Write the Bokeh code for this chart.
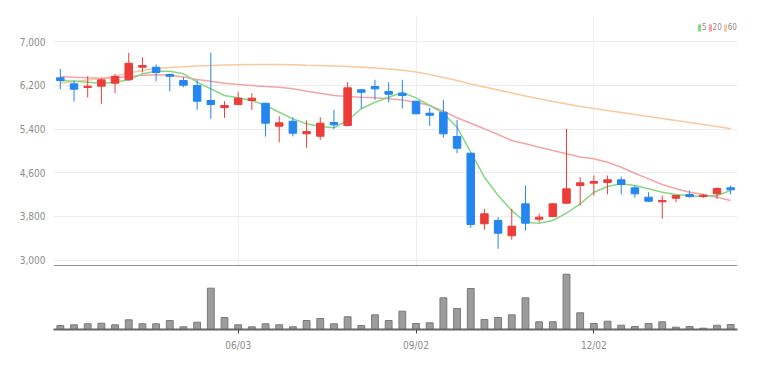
from bokeh.plotting import figure
from bokeh.models import Range1d, FixedTicker, Span, Legend, LegendItem, ColumnDataSource, NumeralTickFormatter
from bokeh.layouts import column
from bokeh.embed import file_html
from bokeh.resources import INLINE

# weekly candles (index 0 = first week shown)
opens = [6340, 6230, 6162, 6186, 6241, 6303, 6534, 6534, 6400, 6290,
         6199, 5924, 5795, 5850, 5924, 5874, 5453, 5544, 5313, 5269,
         5520, 5465, 6120, 6180, 6089, 6058, 5911, 5691, 5709, 5264,
         4958, 3664, 3724, 3444, 4030, 3748, 3797, 4041, 4366, 4408,
         4421, 4470, 4323, 4151, 4067, 4133, 4201, 4164, 4213, 4323]
highs = [6505, 6290, 6369, 6332, 6413, 6798, 6717, 6584, 6413, 6351,
         6303, 6798, 5911, 6076, 6058, 5880, 5636, 5617, 5557, 5617,
         5753, 6259, 6130, 6303, 6259, 6303, 5920, 5790, 5936, 5570,
         4960, 3938, 3785, 3938, 4366, 3847, 4040, 5405, 4518, 4549,
         4549, 4530, 4366, 4243, 4182, 4190, 4274, 4213, 4334, 4366]
lows = [6131, 5905, 5979, 5863, 6058, 6290, 6437, 6277, 6094, 6167,
        5753, 5588, 5606, 5840, 5753, 5264, 5159, 5264, 5057, 5203,
        5405, 5450, 5772, 5937, 5892, 5777, 5675, 5460, 5240, 4958,
        3590, 3554, 3205, 3370, 3541, 3693, 3790, 4035, 3999, 4182,
        4201, 4201, 4140, 4060, 3755, 4060, 4140, 4140, 4122, 4201]
closes = [6290, 6131, 6186, 6303, 6364, 6607, 6565, 6437, 6369, 6204,
          5911, 5850, 5832, 5966, 5966, 5508, 5515, 5324, 5355, 5508,
          5478, 6156, 6076, 6138, 6039, 6015, 5680, 5654, 5313, 5049,
          3651, 3847, 3491, 3620, 3675, 3785, 4030, 4305, 4415, 4439,
          4470, 4384, 4213, 4078, 4091, 4182, 4164, 4188, 4311, 4287]
volumes = [80, 94, 114, 126, 94, 194, 114, 114, 180, 54,
           146, 826, 240, 94, 54, 114, 94, 54, 180, 220,
           114, 254, 80, 294, 180, 366, 120, 134, 634, 420,
           820, 200, 240, 294, 634, 154, 154, 1106, 334, 120,
           166, 86, 60, 120, 154, 46, 60, 26, 86, 100]
ma5 = [6290, 6277, 6259, 6241, 6259, 6303, 6413, 6461, 6461, 6413,
       6259, 6138, 6015, 5973, 5924, 5832, 5709, 5588, 5497, 5447,
       5423, 5557, 5772, 5892, 5984, 6070, 5973, 5832, 5691, 5434,
       4976, 4518, 4182, 3906, 3693, 3675, 3724, 3858, 4030, 4243,
       4347, 4397, 4366, 4305, 4243, 4201, 4177, 4164, 4182, 4274]
ma20 = [6364, 6351, 6340, 6332, 6340, 6364, 6387, 6395, 6387, 6354,
        6309, 6277, 6241, 6217, 6199, 6180, 6168, 6138, 6094, 6058,
        6015, 5997, 5984, 5973, 5955, 5933, 5893, 5832, 5728, 5607,
        5508, 5405, 5300, 5190, 5130, 5068, 5007, 4947, 4888, 4855,
        4793, 4701, 4591, 4488, 4384, 4305, 4243, 4201, 4151, 4091]
ma60 = [6241, 6272, 6299, 6327, 6373, 6428, 6474, 6510, 6528, 6541,
        6556, 6565, 6574, 6580, 6583, 6583, 6583, 6578, 6570, 6565,
        6556, 6547, 6534, 6519, 6501, 6479, 6446, 6400, 6345, 6290,
        6226, 6171, 6116, 6061, 6006, 5955, 5905, 5859, 5814, 5777,
        5740, 5704, 5667, 5630, 5594, 5557, 5520, 5484, 5447, 5405]
tick_idx = [13, 26, 39]
tick_labels = ["06/03", "09/02", "12/02"]
price_ticks = [3000, 3800, 4600, 5400, 6200, 7000]
ma_labels = ["5", "20", "60"]

UP = "#ec3d3a"
DOWN = "#2486ee"
MA_COLORS = ["#86d884", "#f5a4a6", "#f9c99c"]
FONT = "Liberation Sans Narrow, DejaVu Sans Condensed, Roboto"
LABEL = "#8c8c8c"

idx = list(range(len(opens)))
src = ColumnDataSource(dict(
    x=idx, o=opens, h=highs, l=lows, c=closes, v=volumes,
    top=[max(a, b) for a, b in zip(opens, closes)],
    bot=[min(a, b) for a, b in zip(opens, closes)],
    col=[UP if c >= o else DOWN for o, c in zip(opens, closes)],
))

xr = Range1d(-0.5, len(idx) - 0.5)

p = figure(width=765, height=266, x_range=xr, y_range=Range1d(2881, 7464),
           output_backend="svg", toolbar_location=None, x_axis_location=None,
           min_border_left=53, min_border_right=28, min_border_top=16, min_border_bottom=0)
p.outline_line_color = None
p.background_fill_color = "white"
p.border_fill_color = "white"
p.ygrid.ticker = FixedTicker(ticks=price_ticks)
p.ygrid.grid_line_color = "#ececec"
p.xgrid.ticker = FixedTicker(ticks=tick_idx)
p.xgrid.grid_line_color = "#eeeeee"
ax = p.yaxis[0]
ax.ticker = FixedTicker(ticks=price_ticks)
ax.formatter = NumeralTickFormatter(format="0,0")
ax.axis_line_color = None
ax.major_tick_line_color = None
ax.minor_tick_line_color = None
ax.major_label_standoff = 2
ax.major_label_text_font = FONT
ax.major_label_text_font_size = "10px"
ax.major_label_text_color = LABEL

# moving averages
for vals, colr in zip([ma60, ma20, ma5], MA_COLORS[::-1]):
    p.line(idx, vals, line_color=colr, line_width=1.5)

# candles
p.segment(x0="x", y0="h", x1="x", y1="l", source=src, line_color="col", line_width=1)
p.vbar(x="x", top="top", bottom="bot", width=0.55, source=src,
       fill_color="col", line_color="col", line_width=1)

# legend swatches (zero-width bars, invisible in plot)
items = []
for vals, colr, lab in zip([ma5, ma20, ma60], MA_COLORS, ma_labels):
    r = p.vbar(x=idx, top=vals, bottom=vals, width=0, fill_color=colr, line_alpha=0)
    items.append(LegendItem(label=lab, renderers=[r]))
leg = Legend(items=items, orientation="horizontal", location=(644, 234),
             glyph_width=4, glyph_height=9, label_height=8, label_width=0, label_standoff=1,
             spacing=1, padding=0, margin=0, border_line_alpha=0, background_fill_alpha=0,
             label_text_font=FONT, label_text_font_size="8px", label_text_color=LABEL)
p.add_layout(leg)

p.add_layout(Span(location=2881, dimension="width", line_color="#222222", line_width=2))

# volume panel
v = figure(width=765, height=88, x_range=xr, y_range=Range1d(0, 1220),
           output_backend="svg", toolbar_location=None, y_axis_location=None,
           min_border_left=53, min_border_right=28, min_border_top=2, min_border_bottom=25)
v.outline_line_color = None
v.xgrid.grid_line_color = None
v.ygrid.grid_line_color = None
v.vbar(x="x", top="v", bottom=0, width=0.5, source=src,
       fill_color="#9c9c9c", line_color="#7a7a7a", line_width=1)
xa = v.xaxis[0]
xa.ticker = FixedTicker(ticks=tick_idx)
xa.major_label_overrides = dict(zip(tick_idx, tick_labels))
xa.axis_line_color = "#666666"
xa.axis_line_width = 2
xa.major_tick_in = 0
xa.major_tick_out = 4
xa.major_tick_line_color = "#444444"
xa.minor_tick_line_color = None
xa.major_label_standoff = 6
xa.major_label_text_font = FONT
xa.major_label_text_font_size = "10px"
xa.major_label_text_color = LABEL

layout = column(p, v, spacing=0)
open("out.html", "w").write(file_html(layout, INLINE))
